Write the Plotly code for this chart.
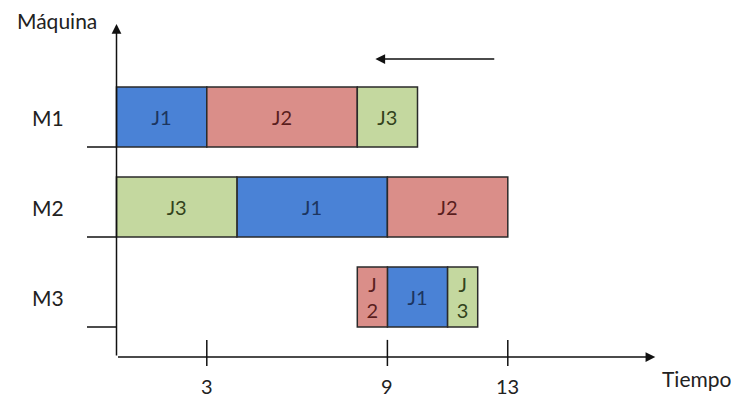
import plotly.graph_objects as go

# ---- data ----
machines = ["M1", "M2", "M3"]
jobs = ["J1", "J2", "J3"]
# start time of each job on M1, M2, M3
starts = {
    "J1": [0, 4, 9],
    "J2": [3, 9, 8],
    "J3": [8, 0, 11],
}
# processing time of each job on M1, M2, M3
durations = {
    "J1": [3, 5, 2],
    "J2": [5, 4, 1],
    "J3": [2, 4, 1],
}
time_ticks = [3, 9, 13]
x_title = "Tiempo"
y_title = "Máquina"

# ---- styles ----
fill = {"J1": "#4a82d6", "J2": "#da8e89", "J3": "#c4d89f"}
ink = {"J1": "#1c3560", "J2": "#5a1e1e", "J3": "#33431c"}
FONT = "Lato"
OFF = 8  # page body margin in px

n = len(machines)
row_center = [3 * (n - i) - 1 for i in range(n)]  # M1 -> 8, M2 -> 5, M3 -> 2
bar_h = 2

fig = go.Figure()
for j in jobs:
    labels = []
    for k in range(n):
        if durations[j][k] <= 1:
            labels.append(j[0] + "<br>" + j[1:])
        else:
            labels.append(j)
    fig.add_trace(go.Bar(
        orientation="h",
        y=row_center,
        x=durations[j],
        base=starts[j],
        width=bar_h,
        marker=dict(color=fill[j], line=dict(color="#2a2a2a", width=1.5)),
        text=labels,
        textposition="inside",
        insidetextanchor="middle",
        textangle=0,
        textfont=dict(family=FONT, size=20, color=ink[j]),
        hoverinfo="skip",
        showlegend=False,
    ))

shapes = []
annotations = []
line = dict(color="#111111", width=1.5)

# machine baselines (left ticks) and labels
for i, m in enumerate(machines):
    base = row_center[i] - bar_h / 2
    shapes.append(dict(type="line", xref="x", yref="y", x0=-0.98, x1=0,
                       y0=base, y1=base, line=line, layer="below"))
    annotations.append(dict(x=-2.28, y=row_center[i], xref="x", yref="y",
                            text=m, showarrow=False,
                            font=dict(family=FONT, size=21, color="#222222")))

# time ticks and labels
for t in time_ticks:
    shapes.append(dict(type="line", xref="x", yref="y", x0=t, x1=t,
                       y0=-0.3, y1=0.57, line=line))
    annotations.append(dict(x=t, y=-0.97, xref="x", yref="y",
                            text=str(t), showarrow=False,
                            font=dict(family=FONT, size=20, color="#222222")))

# axes with arrowheads
annotations.append(dict(x=17.9, y=0, ax=0, ay=0, xref="x", yref="y",
                        axref="x", ayref="y", text="", showarrow=True,
                        arrowhead=2, arrowsize=1.3, arrowwidth=1.5,
                        arrowcolor="#111111"))
annotations.append(dict(x=0, y=11.1, ax=0, ay=0, xref="x", yref="y",
                        axref="x", ayref="y", text="", showarrow=True,
                        arrowhead=2, arrowsize=1.3, arrowwidth=1.5,
                        arrowcolor="#111111"))
# direction arrow above the chart
annotations.append(dict(x=8.6, y=9.93, ax=12.6, ay=9.93, xref="x", yref="y",
                        axref="x", ayref="y", text="", showarrow=True,
                        arrowhead=2, arrowsize=1.3, arrowwidth=1.5,
                        arrowcolor="#111111"))

# axis titles
annotations.append(dict(x=-1.98, y=11.23, xref="x", yref="y", text=y_title,
                        showarrow=False,
                        font=dict(family=FONT, size=21, color="#222222")))
annotations.append(dict(x=19.29, y=-0.7, xref="x", yref="y", text=x_title,
                        showarrow=False,
                        font=dict(family=FONT, size=21, color="#222222")))

fig.update_layout(
    width=739, height=399,
    margin=dict(l=0, r=0, t=0, b=0),
    paper_bgcolor="white", plot_bgcolor="white",
    barmode="overlay",
    shapes=shapes, annotations=annotations,
    uniformtext=dict(minsize=20, mode="show"),
    xaxis=dict(range=[-(116.5 - OFF) / 30.1, (739 - 116.5 + OFF) / 30.1],
               visible=False, fixedrange=True),
    yaxis=dict(range=[-(399 - 357 + OFF) / 30, (357 - OFF) / 30],
               visible=False, fixedrange=True),
)

fig.write_html("out.html")
